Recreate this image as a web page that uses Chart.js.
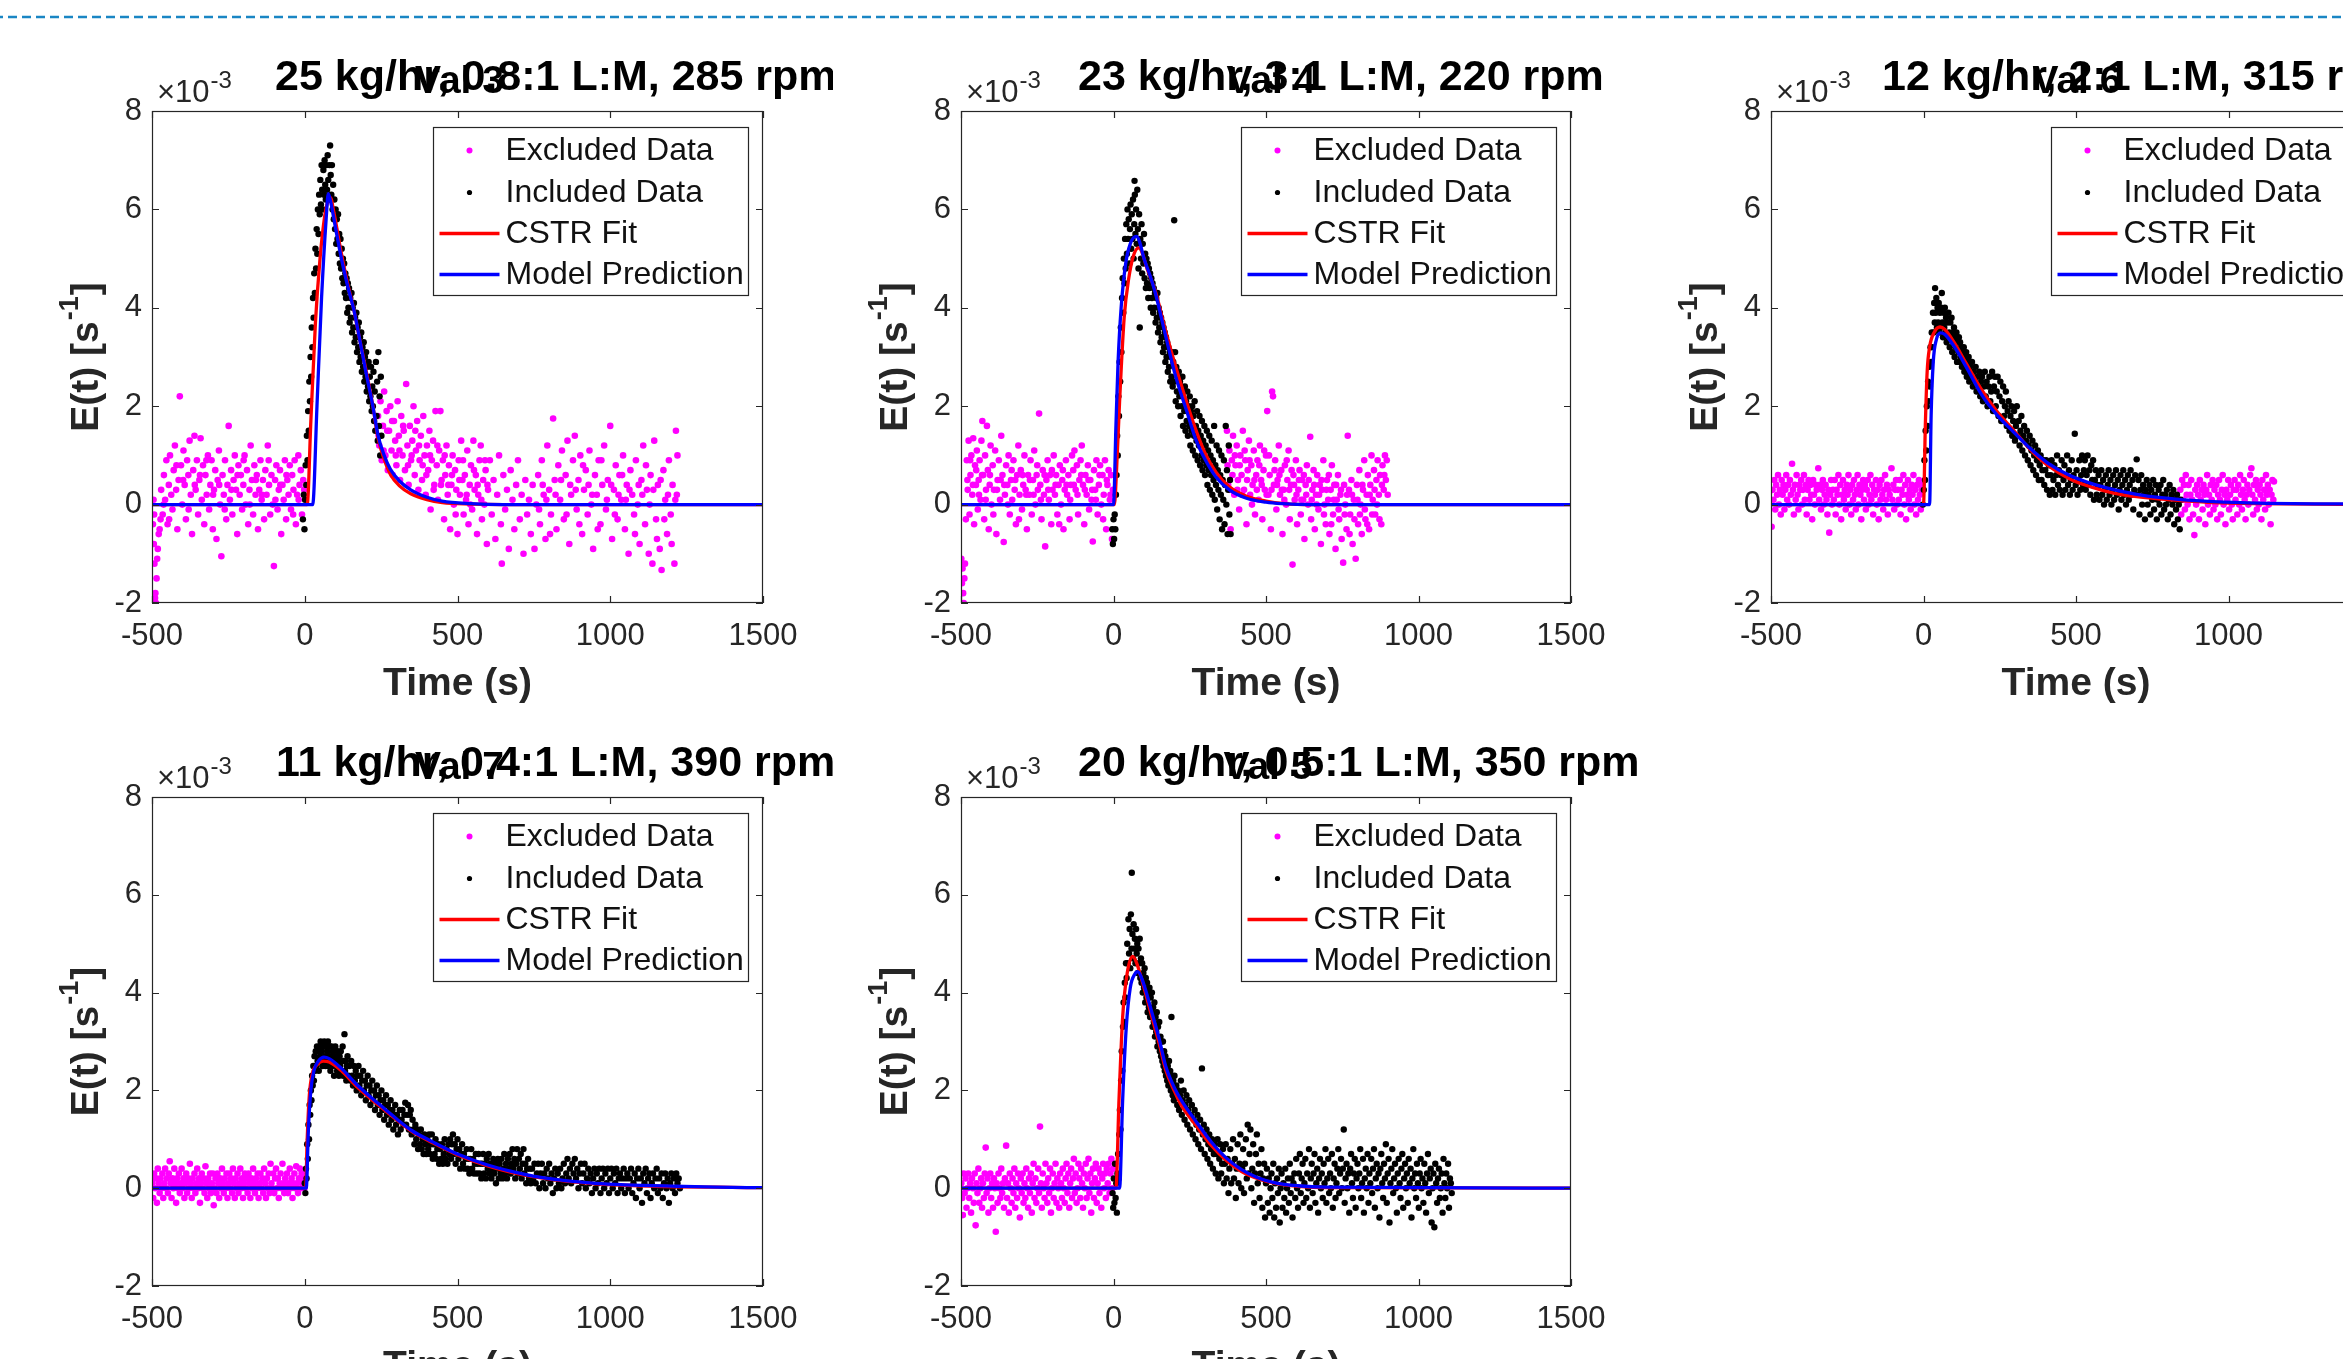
<!DOCTYPE html>
<html><head><meta charset="utf-8">
<script src="https://cdn.jsdelivr.net/npm/chart.js@4/dist/chart.umd.min.js"></script>
<style>
html,body{margin:0;padding:0;background:#fff;}
#page{position:relative;width:2343px;height:1359px;overflow:hidden;background:#fff;}
.panel{position:absolute;}
#dash{position:absolute;left:0;top:0;}
</style></head><body><div id="page"><canvas id="dash" width="2343" height="34"></canvas></div>
<script>
// ---------- axis ticks & labels ----------
const xTicks = [-500, 0, 500, 1000, 1500];
const yTicks = [-2, 0, 2, 4, 6, 8];
const legendLabels = ['Excluded Data', 'Included Data', 'CSTR Fit', 'Model Prediction'];
const panelNames = ['Val 3', 'Val 4', 'Val 6', 'Val 7', 'Val 5'];
const panelTitles = ['25 kg/hr, 0.8:1 L:M, 285 rpm', '23 kg/hr, 3:1 L:M, 220 rpm', '12 kg/hr, 2:1 L:M, 315 rpm', '11 kg/hr, 0.4:1 L:M, 390 rpm', '20 kg/hr, 0.5:1 L:M, 350 rpm'];
const xLabel = 'Time (s)';
const yLabelMain = 'E(t) [s', yLabelSup = '-1', yLabelEnd = ']';
const expBase = '\u00d710', expSup = '-3';

// ---------- Val 3 (values in units of 1e-3 s^-1) ----------
const val3Excluded = [[-497,-0.4],[-495,0.1],[-494,-0.8],[-493,-0.2],[-492,-1.2],[-490,-1.9],[-489,-1.8],[-487,-2.0],[-485,-1.5],[-483,-1.1],[-481,-0.9],[-478,-0.6],[-475,-0.5],[-472,-0.3],
[-470,0.3],[-465,-0.2],[-461,0.6],[-457,0.1],[-453,0.9],[-449,-0.4],[-445,0.4],[-441,1.0],[-437,0.2],[-433,-0.1],[-429,0.7],[-425,1.2],[-421,0.3],[-417,-0.5],[-413,0.5],[-409,2.2],[-405,0.8],[-401,0.0],[-397,1.1],[-393,0.4],[-389,-0.3],[-385,0.9],[-381,0.6],[-377,1.3],[-373,0.2],[-369,-0.6],[-365,0.7],[-361,1.4],[-357,0.3],[-353,0.9],[-349,-0.2],[-345,0.5],[-341,1.35],[-337,0.1],[-333,0.8],[-329,-0.4],[-325,0.6],[-321,0.2],[-317,1.0],[-313,-0.1],[-309,0.4],[-305,0.9],[-301,-0.5],[-297,0.3],[-293,0.7],[-289,-0.7],[-285,0.5],[-281,1.1],[-277,0.0],[-273,-1.05],[-269,0.6],[-265,0.2],[-261,0.9],[-257,-0.3],[-253,0.4],[-249,1.6],[-245,0.1],[-241,0.7],[-237,-0.2],[-233,0.5],[-229,1.0],[-225,0.3],[-221,-0.6],[-217,0.8],[-213,0.2],[-209,0.6],[-205,-0.1],[-201,0.4],[-197,1.0],[-193,0.0],[-189,0.7],[-185,-0.4],[-181,0.3],[-177,1.2],[-173,0.5],[-169,-0.2],[-165,0.8],[-161,0.2],[-157,0.6],[-153,-0.5],[-149,0.3],[-145,0.9],[-141,0.1],[-137,0.5],[-133,-0.3],[-129,0.7],[-125,0.2],[-121,1.2],[-117,0.4],[-113,-0.2],[-109,0.6],[-105,0.0],[-101,-1.25],[-97,0.5],[-93,0.8],[-89,-0.1],[-85,0.3],[-81,0.7],[-77,-0.6],[-73,0.4],[-69,0.1],[-65,0.9],[-61,-0.3],[-57,0.5],[-53,0.2],[-49,0.8],[-45,-0.1],[-41,0.6],[-37,0.3],[-33,0.9],[-29,-0.4],[-25,0.2],[-21,1.0],[-17,0.4],[-13,0.7],[-9,-0.2],[-5,0.5],[-2,0.3],
[-462,0.0],[-444,-0.3],[-420,0.8],[-398,0.5],[-380,-0.1],[-360,0.4],[-343,0.6],[-322,0.9],[-300,0.2],[-280,0.4],[-262,-0.1],[-240,0.3],[-220,0.6],[-200,0.9],[-180,0.0],[-160,0.5],[-140,0.2],[-118,0.9],[-96,0.1],[-80,0.4],[-60,0.6],[-38,-0.2],[-20,0.1],
[240,1.8],[244,1.2],[248,2.1],[252,0.9],[256,1.6],[260,2.3],[264,1.0],[268,1.9],[272,0.7],[276,1.5],[280,2.0],[284,1.1],[288,0.6],[292,1.7],[296,1.3],[300,0.8],[304,2.1],[308,1.4],[312,0.5],[316,1.8],[320,1.0],[324,1.5],[328,0.7],[332,2.45],[336,1.2],[340,0.4],[344,1.6],[348,0.9],[352,1.3],[356,2.0],[360,0.6],[364,1.1],[368,1.7],[372,0.3],[376,0.9],[380,1.4],[384,0.5],[388,1.8],[392,1.0],[396,0.2],[400,1.2],[404,0.7],[408,1.5],[412,-0.1],[416,0.9],[420,1.3],[424,0.4],[428,1.9],[432,0.8],[436,0.1],[440,1.1],[444,1.9],[448,0.5],[452,0.9],[456,-0.3],[460,0.6],[464,1.2],[468,0.2],[472,0.8],[476,-0.5],[480,0.4],[484,1.0],[488,0.0],[492,0.7],[496,0.3],[500,-0.6],[504,0.9],[508,0.2],[512,1.3],[516,0.5],[520,-0.2],[524,0.6],[528,0.1],[532,1.1],[536,-0.4],[540,0.4],[544,0.8],[548,-0.1],[552,1.3],[556,0.3],[560,0.6],[564,-0.6],[568,0.2],[572,0.9],[576,1.2],[580,-0.3],[584,0.5],[588,0.0],[592,0.7],[596,-0.8],[600,0.3],
[242,1.4],[258,1.1],[270,1.5],[286,1.7],[298,1.0],[310,1.1],[322,1.6],[338,0.8],[350,1.0],[362,1.5],[374,1.2],[386,0.8],[398,0.6],[410,1.0],[422,0.3],[434,1.2],[446,0.4],[458,1.0],[470,0.4],[482,0.6],[494,-0.2],[506,0.5],[518,0.9],[530,0.2],[542,0.0],[554,0.7],[566,0.4],[578,0.1],[590,0.9],[598,0.4],
[606,0.9],[612,-0.2],[618,0.5],[624,-0.7],[630,0.2],[636,1.0],[642,-0.4],[645,-1.2],[650,0.6],[656,-0.1],[662,0.3],[668,-0.9],[674,0.7],[680,0.1],[686,-0.5],[692,0.4],[698,0.9],[704,-0.3],[710,0.2],[716,-1.0],[722,0.5],[728,-0.2],[734,0.1],[740,-0.6],[746,0.4],[752,-0.9],[758,0.0],
[764,0.6],[770,-0.4],[776,0.9],[782,0.2],[788,-0.7],[794,1.2],[800,0.3],[806,-0.2],[813,1.75],[818,0.5],[824,-0.5],[830,0.8],[836,0.1],[842,1.1],[848,-0.3],[854,0.6],[860,1.3],[866,-0.8],[872,0.2],[878,0.9],[884,1.4],[890,-0.1],[896,0.5],[902,1.0],[908,-0.6],[914,0.3],[920,0.7],[926,-0.2],[932,1.1],[938,0.0],[944,-0.9],[950,0.6],[956,0.2],[962,0.9],[968,-0.4],[974,0.4],[980,1.2],[986,-0.1],[992,0.5],[1000,1.6],[1006,-0.7],[1012,0.3],[1018,0.8],[1024,-0.3],[1030,0.6],[1036,0.1],[1042,1.0],[1048,-0.5],[1054,0.4],[1060,-1.0],[1066,0.7],[1072,0.2],[1078,-0.2],[1084,0.9],[1090,0.0],[1096,-0.8],[1102,0.5],[1108,1.2],[1114,-0.4],[1120,0.3],[1126,-1.0],[1132,0.6],[1138,-1.2],[1144,1.3],[1150,-0.3],[1156,0.4],[1162,-0.9],[1168,-1.33],[1174,0.7],[1180,0.1],[1186,-0.6],[1192,0.9],[1198,-0.2],[1204,0.4],[1210,-1.2],[1215,1.5],[1218,0.2],[1220,1.0],
[767,-0.1],[779,0.4],[791,0.1],[803,-0.6],[821,0.2],[839,0.5],[857,-0.2],[869,0.4],[887,0.3],[899,-0.4],[911,0.8],[929,0.4],[941,0.2],[959,-0.5],[971,0.9],[989,0.1],[1003,0.4],[1015,-0.2],[1027,0.2],[1039,0.6],[1051,0.1],[1063,0.3],[1081,-0.6],[1093,0.4],[1105,0.2],[1117,0.8],[1129,0.0],[1141,0.3],[1153,-0.7],[1165,0.5],[1177,-0.3],[1189,0.2],[1201,-0.8],[1213,0.1]];
const val3Included = [[-6,-0.3],[-3,0.2],[-1,-0.5],[1,0.1],[3,0.8],[5,0.4],[7,1.4],[9,0.9],[11,1.9],[13,1.5],[15,2.5],[17,2.1],[19,3.0],[21,2.6],[23,3.6],[25,3.2],[27,4.2],[29,3.8],[31,4.7],[33,4.3],[35,5.2],[37,4.8],[39,5.6],[41,5.1],[43,6.0],[45,5.5],[47,6.3],[49,5.9],[51,6.6],[53,6.1],[55,6.9],[57,6.4],[59,6.0],[61,6.8],[63,6.3],[65,7.0],[67,6.5],[69,6.2],[71,6.9],[73,6.4],[75,7.1],[77,6.6],[79,6.2],[81,6.9],[83,7.3],[85,6.7],[87,6.3],[89,6.9],[91,6.0],[93,6.5],[95,5.8],[97,6.2],[99,5.6],[101,6.0],[103,5.3],[105,5.8],[107,5.4],[109,5.9],[111,5.1],[113,5.5],[115,4.9],[117,5.4],[119,4.8],[121,5.2],[123,4.6],[125,5.0],[127,4.5],[129,4.9],[131,4.3],[133,4.7],[135,4.2],[137,4.6],[139,3.9],[141,4.5],[143,4.0],[145,4.4],[147,3.7],[149,4.2],[151,3.8],[153,4.3],[155,3.5],[157,4.0],[159,3.6],[161,4.1],[163,3.3],[165,3.8],[167,3.4],[169,3.9],[171,3.1],[173,3.6],[175,3.2],[177,3.7],[179,2.9],[181,3.4],[183,3.0],[185,3.5],[187,2.7],[189,3.2],[191,2.8],[193,3.3],[195,2.5],[197,3.0],[199,2.6],[201,3.1],[203,2.3],[205,2.8],[207,2.4],[209,2.9],[211,2.1],[213,2.6],[215,2.2],[217,2.8],[219,1.9],[221,2.4],[223,2.0],[225,2.7],[227,1.7],[229,2.3],[231,1.5],[233,2.9],[235,1.8],[237,2.5],[239,1.3],[241,3.1],[243,1.6],[245,2.2],[247,1.0],[249,2.6],[251,1.4]];
const val3CstrFit = [[-500,0],[8,0],[20,1.7],[35,3.7],[50,5.0],[65,5.85],[75,6.15],[84,6.24],[95,5.95],[120,5.1],[140,4.5],[161,3.95],[180,3.35],[200,2.75],[223,2.0],[240,1.35],[260,0.92],[280,0.62],[310,0.38],[347,0.22],[400,0.1],[450,0.04],[543,0.01],[650,0],[1500,0]];
const val3ModelPrediction = [[-500,0],[26,0],[40,2.0],[55,4.2],[70,5.8],[77,6.32],[85,6.15],[100,5.65],[120,5.0],[140,4.45],[161,3.95],[180,3.35],[200,2.7],[223,2.0],[240,1.4],[260,1.0],[280,0.72],[310,0.48],[347,0.3],[400,0.15],[450,0.07],[543,0.02],[650,0],[1500,0]];

// ---------- Val 4 ----------
const val4Excluded = [[-499,-1.1],[-497,-1.6],[-495,-1.3],[-493,-1.8],[-491,-2.0],[-489,-1.5],[-487,-1.2],[-484,-0.3],[-481,0.9],[-478,0.3],[-475,1.3],[-472,-0.2],[-469,0.6],[-466,1.0],[-463,0.2],[-460,1.35],[-457,-0.4],[-454,0.8],[-451,0.4],[-448,1.1],[-445,-0.1],[-442,0.5],[-439,0.9],[-436,0.1],[-433,1.3],[-430,1.7],[-427,0.6],[-424,-0.3],[-421,1.0],[-418,0.3],[-415,1.6],[-412,0.7],[-409,-0.5],[-406,0.4],[-403,1.2],[-400,0.0],[-396,0.8],[-392,0.3],[-388,1.1],[-384,-0.6],[-380,0.5],[-376,0.9],[-372,0.1],[-368,1.4],[-364,0.6],[-360,-0.76],[-356,0.2],[-352,0.8],[-348,0.4],[-344,1.0],[-340,-0.2],[-336,0.5],[-332,0.1],[-328,0.9],[-324,0.3],[-320,-0.4],[-316,0.6],[-312,1.2],[-308,0.2],[-304,0.7],[-300,-0.1],[-296,0.4],[-292,1.0],[-288,0.3],[-284,-0.5],[-280,0.6],[-276,0.2],[-272,0.9],[-268,-0.2],[-264,0.5],[-260,1.1],[-256,0.0],[-252,0.6],[-248,0.3],[-244,1.85],[-240,0.4],[-236,-0.3],[-232,0.7],[-228,0.2],[-224,-0.85],[-220,0.5],[-216,0.9],[-212,0.1],[-208,0.6],[-204,-0.4],[-200,0.3],[-196,1.0],[-192,0.2],[-188,0.6],[-184,-0.2],[-180,0.4],[-176,0.8],[-172,0.0],[-168,0.5],[-164,-0.5],[-160,0.3],[-156,0.9],[-152,0.2],[-148,0.6],[-144,-0.3],[-140,0.4],[-136,1.0],[-132,0.7],[-128,1.1],[-124,0.3],[-120,0.8],[-116,-0.2],[-112,0.5],[-108,0.9],[-104,1.2],[-100,0.4],[-96,-0.4],[-92,0.6],[-88,0.2],[-84,0.8],[-80,-0.1],[-76,0.5],[-72,0.1],[-68,-0.75],[-64,0.7],[-60,0.3],[-56,0.9],[-52,-0.2],[-48,0.4],[-44,0.8],[-40,0.0],[-36,0.6],[-32,0.2],[-28,0.9],[-24,-0.5],[-20,0.4],[-16,0.7],[-12,0.1],[-8,0.6],[-5,-0.7],[-2,0.3],
[-479,0.5],[-470,0.9],[-461,0.4],[-450,0.7],[-441,0.2],[-431,0.6],[-419,0.1],[-405,0.6],[-394,-0.2],[-382,0.3],[-370,0.5],[-358,0.4],[-346,0.0],[-334,0.7],[-322,0.5],[-310,-0.3],[-298,0.6],[-286,0.2],[-274,0.5],[-262,0.2],[-250,0.8],[-238,0.1],[-226,0.6],[-214,0.3],[-202,0.7],[-190,0.4],[-178,-0.4],[-166,0.7],[-154,0.4],[-142,0.1],[-130,0.4],[-118,0.2],[-106,0.6],[-94,0.3],[-82,0.5],[-70,0.3],[-58,0.1],[-46,0.6],[-34,-0.3],[-22,0.5],[-10,0.2],
[372,1.5],[376,0.4],[380,1.1],[384,-0.5],[388,0.9],[392,1.4],[396,0.2],[400,0.8],[404,1.2],[408,0.5],[412,-0.1],[416,1.0],[420,0.6],[424,1.5],[428,0.3],[432,0.9],[436,-0.4],[440,0.7],[444,1.3],[448,0.2],[452,0.8],[456,0.4],[460,1.1],[464,-0.2],[468,0.6],[472,0.9],[476,0.1],[480,1.2],[484,0.5],[488,-0.3],[492,0.7],[496,0.3],[500,1.0],[504,1.9],[508,0.2],[512,0.6],[516,-0.5],[520,2.3],[523,2.2],[526,0.4],[530,0.9],[534,-0.1],[538,0.5],[542,1.2],[546,0.2],[550,0.7],[554,-0.6],[558,0.3],[562,0.8],[566,0.0],[570,0.5],[574,1.1],[578,-0.3],[582,0.4],[587,-1.22],[590,0.6],[594,0.1],[598,0.9],[602,-0.4],[606,0.3],[610,0.7],[614,-0.2],[618,0.5],[622,0.1],[626,-0.7],[630,0.4],[634,0.8],[638,0.0],[645,1.38],[648,-0.3],[652,0.3],[656,0.7],[660,-0.5],[664,0.2],[668,0.6],[672,-0.1],[676,0.4],[680,-0.8],[684,0.3],[688,0.9],[692,0.0],[696,-0.4],[700,0.5],[704,0.1],[708,-0.6],[712,0.3],[716,0.8],[720,-0.2],[724,0.4],[728,-0.9],[732,0.1],[736,0.6],[740,-0.3],[744,0.2],[748,-0.7],[753,-1.18],[756,0.4],[760,0.0],[764,-0.5],[768,1.4],[772,0.3],[776,-0.2],[780,0.5],[784,-0.8],[788,0.1],[794,-1.1],[798,0.4],[802,-0.4],[806,0.7],[810,0.0],[814,-0.6],[818,0.3],[822,0.9],[826,-0.3],[830,0.2],[834,0.6],[838,-0.5],[842,0.4],[846,1.0],[850,0.1],[854,0.7],[858,-0.2],[862,0.5],[866,0.9],[870,0.2],[874,0.6],[878,-0.4],[882,0.8],[886,0.3],[890,1.0],[893,0.5],[896,0.9],[899,0.2],
[374,0.8],[382,0.3],[390,0.6],[398,1.0],[406,0.3],[414,0.8],[422,0.2],[430,1.1],[438,0.5],[446,0.9],[454,0.0],[462,0.5],[470,0.3],[478,0.8],[486,0.4],[494,1.1],[502,0.2],[510,1.0],[518,0.3],[528,0.7],[536,0.4],[544,0.6],[552,0.3],[560,0.1],[568,0.9],[576,0.3],[584,0.7],[592,0.4],[600,0.2],[608,0.5],[616,0.1],[624,0.6],[632,0.2],[640,0.5],[650,0.1],[658,0.4],[666,0.0],[674,0.2],[682,0.5],[690,-0.2],[698,0.3],[706,0.6],[714,-0.4],[722,0.1],[730,0.4],[738,-0.1],[746,0.3],[758,-0.2],[766,0.2],[774,-0.6],[782,0.2],[790,-0.3],[800,0.1],[808,-0.2],[816,0.4],[824,-0.1],[832,-0.4],[840,0.2],[848,-0.2],[856,0.3],[864,0.0],[872,-0.3],[880,0.4],[888,0.6]];
const val4Included = [[-4,-0.5],[-2,-0.8],[0,-0.3],[2,-0.7],[4,-0.2],[6,-0.5],[8,0.2],[10,0.6],[12,1.4],[14,1.0],[16,2.2],[18,1.8],[20,2.9],[22,2.5],[24,3.6],[26,3.1],[28,4.2],[30,4.6],[32,3.9],[34,5.0],[36,4.5],[38,5.4],[40,4.8],[42,5.7],[44,5.1],[46,6.0],[48,5.4],[50,5.8],[52,4.9],[54,5.6],[56,6.1],[58,5.2],[60,5.9],[62,5.4],[64,6.2],[66,5.0],[68,5.7],[69,6.58],[70,6.3],[72,5.5],[74,6.0],[76,5.3],[78,6.4],[80,5.6],[82,4.8],[84,5.9],[86,3.6],[88,5.4],[90,5.0],[92,5.7],[94,4.7],[96,5.3],[98,4.9],[100,5.5],[102,4.6],[104,5.1],[106,4.4],[108,5.0],[110,4.5],[112,4.9],[114,4.2],[116,4.8],[118,4.4],[120,4.7],[122,4.0],[124,4.6],[126,4.2],[128,4.5],[130,3.9],[132,4.4],[134,4.0],[136,4.3],[138,3.7],[140,4.2],[142,3.8],[144,4.3],[146,3.5],[148,4.0],[150,3.6],[152,3.9],[154,3.3],[156,3.8],[158,3.4],[160,3.7],[162,3.1],[164,3.6],[166,3.2],[168,3.5],[170,2.9],[172,3.4],[174,3.0],[176,3.3],[178,2.7],[180,3.2],[182,2.8],[184,3.1],[186,2.5],[188,3.0],[190,2.6],[192,3.1],[194,2.4],[196,2.9],[199,5.78],[200,2.5],[202,3.1],[204,2.1],[206,2.8],[208,2.3],[210,2.6],[212,2.0],[214,2.7],[216,2.2],[218,2.5],[220,1.8],[222,2.4],[224,2.0],[226,2.6],[228,1.6],[230,2.3],[232,1.9],[234,2.4],[236,1.5],[238,2.1],[240,1.7],[242,2.3],[244,1.4],[246,2.0],[248,1.6],[250,2.2],[252,1.2],[254,1.9],[256,1.5],[258,2.0],[260,1.1],[262,1.8],[264,1.4],[266,2.1],[268,1.0],[270,1.6],[272,1.3],[274,1.9],[276,0.9],[278,1.5],[280,1.2],[282,1.8],[284,0.8],[286,1.4],[288,1.0],[290,1.7],[292,0.7],[294,1.3],[296,0.9],[298,1.6],[300,0.6],[302,1.2],[304,0.8],[306,1.5],[308,0.4],[310,1.1],[312,0.7],[314,1.4],[316,0.3],[318,1.0],[320,0.6],[322,1.3],[324,0.2],[326,0.9],[328,0.5],[330,1.6],[332,0.1],[334,0.8],[336,0.4],[338,1.2],[340,-0.1],[342,0.7],[344,0.3],[346,1.1],[348,-0.3],[350,0.6],[352,0.2],[354,1.0],[356,-0.5],[358,0.5],[360,0.1],[362,0.9],[364,-0.4],[366,0.4],[368,1.6],[370,0.0],[372,0.7],[374,-0.6],[376,0.3],[378,1.2],[380,-0.2],[382,0.5],[384,-0.6]];
const val4CstrFit = [[-500,0],[3,0],[10,0.7],[20,2.1],[35,3.8],[50,4.6],[65,5.05],[82,5.22],[92,5.15],[110,4.8],[138,4.32],[170,3.55],[204,2.8],[240,2.08],[270,1.52],[300,1.05],[336,0.66],[380,0.36],[436,0.17],[500,0.07],[560,0.02],[650,0],[1500,0]];
const val4ModelPrediction = [[-500,0],[0,0],[8,1.6],[15,2.9],[25,4.0],[40,4.9],[55,5.3],[75,5.45],[85,5.35],[100,5.0],[120,4.65],[138,4.28],[170,3.45],[204,2.6],[240,1.9],[270,1.32],[300,0.92],[336,0.56],[380,0.3],[436,0.13],[500,0.05],[552,0.02],[650,0],[1500,0]];

// ---------- Val 6 ----------
const val6Excluded = [[-498,-0.45],[-495,0.3],[-492,0.1],[-489,0.5],[-486,-0.1],[-483,0.4],[-480,0.2],[-477,0.6],[-474,0.0],[-471,0.3],[-468,-0.2],[-465,0.5],[-462,0.2],[-459,0.4],[-456,-0.1],[-453,0.3],[-450,0.6],[-447,0.1],[-444,0.4],[-441,0.0],[-438,0.5],[-435,0.2],[-431,0.83],[-428,0.3],[-425,-0.2],[-422,0.4],[-419,0.1],[-416,0.6],[-413,0.2],[-410,-0.1],[-407,0.4],[-404,0.3],[-401,0.5],[-398,0.0],[-395,0.3],[-392,0.6],[-389,0.1],[-386,0.4],[-383,-0.2],[-380,0.3],[-377,0.5],[-374,0.1],[-371,0.4],[-368,0.2],[-365,-0.3],[-362,0.5],[-359,0.2],[-356,0.0],[-353,0.4],[-350,0.3],[-345,0.74],[-342,0.1],[-339,0.4],[-336,-0.1],[-333,0.3],[-330,0.5],[-327,0.0],[-324,0.2],[-321,0.4],[-318,0.1],[-315,-0.2],[-312,0.3],[-309,-0.57],[-306,0.2],[-303,0.5],[-300,0.0],[-297,0.3],[-294,0.1],[-291,0.5],[-288,-0.2],[-285,0.3],[-282,0.2],[-279,0.6],[-276,0.0],[-273,0.4],[-270,-0.3],[-267,0.2],[-264,0.5],[-261,0.1],[-258,0.3],[-255,-0.1],[-252,0.4],[-249,0.2],[-246,0.6],[-243,0.0],[-240,0.3],[-237,-0.2],[-234,0.4],[-231,0.1],[-228,0.5],[-225,0.2],[-222,-0.1],[-219,0.3],[-216,0.6],[-213,0.0],[-210,0.4],[-207,0.2],[-204,-0.3],[-201,0.3],[-198,0.5],[-195,0.1],[-192,0.4],[-189,-0.1],[-186,0.3],[-183,0.5],[-180,0.0],[-177,0.2],[-174,0.6],[-171,0.1],[-168,0.4],[-165,-0.2],[-162,0.3],[-159,0.2],[-156,0.5],[-153,0.0],[-150,0.3],[-147,-0.3],[-144,0.4],[-141,0.1],[-138,0.5],[-135,0.2],[-132,-0.1],[-129,0.3],[-126,0.6],[-123,0.1],[-120,0.4],[-117,-0.2],[-114,0.3],[-111,0.2],[-105,0.74],[-102,0.1],[-99,0.4],[-96,-0.1],[-93,0.3],[-90,0.5],[-87,0.0],[-84,0.3],[-81,0.1],[-78,0.5],[-75,-0.2],[-72,0.3],[-69,0.2],[-66,0.6],[-63,0.0],[-60,0.4],[-57,-0.3],[-54,0.2],[-51,0.5],[-48,0.1],[-45,0.3],[-42,-0.1],[-39,0.4],[-36,0.2],[-33,0.6],[-30,0.0],[-27,0.3],[-24,-0.2],[-21,0.4],[-18,0.1],[-15,0.5],[-12,0.2],[-9,-0.1],[-6,0.3],[-3,0.4],
[842,0.3],[845,-0.2],[848,0.5],[851,0.1],[854,0.4],[857,-0.1],[860,0.6],[863,0.2],[866,0.0],[869,0.4],[872,-0.3],[875,0.2],[878,0.5],[881,0.1],[884,-0.2],[888,-0.62],[891,0.3],[894,0.0],[897,0.4],[900,0.2],[903,-0.3],[906,0.5],[909,0.1],[912,0.3],[915,-0.1],[918,0.4],[921,0.2],[924,-0.4],[927,0.3],[930,0.6],[933,0.0],[936,0.2],[939,-0.2],[942,0.4],[945,0.1],[948,0.5],[951,-0.1],[954,0.3],[957,0.0],[960,0.4],[963,-0.3],[966,0.2],[969,0.5],[972,0.1],[975,-0.2],[978,0.3],[981,0.6],[984,0.0],[987,0.2],[990,-0.4],[993,0.3],[996,0.1],[999,0.5],[1002,-0.1],[1005,0.2],[1008,0.4],[1011,0.0],[1014,-0.3],[1017,0.3],[1020,0.5],[1023,0.1],[1026,0.3],[1029,-0.2],[1032,0.4],[1035,0.0],[1038,0.6],[1041,0.2],[1044,-0.1],[1047,0.3],[1050,0.5],[1053,0.1],[1056,-0.3],[1059,0.2],[1062,0.4],[1065,0.0],[1068,0.3],[1071,0.6],[1075,0.74],[1078,0.2],[1081,-0.2],[1084,0.4],[1087,0.1],[1090,0.5],[1093,-0.1],[1096,0.3],[1099,0.0],[1102,0.4],[1105,0.2],[1108,-0.3],[1111,0.5],[1114,0.1],[1117,0.3],[1120,-0.1],[1123,0.6],[1126,0.2],[1129,0.4],[1132,0.0],[1135,0.3],[1138,-0.4],[1141,0.2],[1144,0.5],[1147,0.1],[1149,0.47]];
const val6Included = [[-2,0.0],[1,0.3],[3,0.9],[5,0.5],[7,1.5],[9,1.1],[11,2.0],[13,1.6],[15,2.5],[17,2.1],[19,2.8],[21,2.4],[23,3.2],[25,2.9],[27,3.5],[29,3.2],[31,3.9],[33,3.5],[35,4.1],[37,3.7],[38,4.4],[40,3.9],[42,4.2],[44,3.6],[46,4.0],[48,3.7],[50,4.1],[52,3.5],[54,3.9],[56,3.6],[58,4.0],[60,4.3],[62,3.7],[64,3.4],[66,3.9],[68,3.6],[70,4.0],[72,3.5],[74,3.8],[76,3.3],[78,3.7],[80,3.4],[82,3.9],[84,3.5],[86,3.2],[88,3.7],[90,3.4],[92,3.8],[94,3.1],[96,3.5],[98,3.3],[100,3.6],[102,3.0],[104,3.4],[106,3.2],[108,3.5],[110,2.9],[112,3.3],[114,3.1],[116,3.4],[118,2.9],[120,3.3],[122,3.0],[124,3.2],[126,2.8],[128,3.1],[130,2.9],[132,3.2],[134,2.7],[136,3.0],[138,2.8],[140,3.1],[142,2.6],[144,2.9],[146,2.7],[148,3.0],[150,2.5],[153,2.8],[156,2.6],[159,2.9],[162,2.4],[165,2.7],[168,2.5],[171,2.8],[174,2.3],[177,2.6],[180,2.4],[183,2.7],[186,2.2],[189,2.5],[192,2.6],[195,2.1],[198,2.4],[201,2.7],[204,2.2],[207,2.5],[210,2.0],[213,2.4],[216,2.6],[219,2.1],[222,2.3],[225,2.7],[228,1.9],[231,2.4],[234,2.6],[237,2.0],[240,2.3],[243,2.6],[246,1.8],[249,2.2],[252,2.5],[255,1.7],[258,2.1],[261,2.4],[264,1.8],[267,2.0],[270,2.3],[273,1.6],[276,1.9],[279,2.1],[282,1.5],[285,1.8],[288,2.0],[291,1.4],[294,1.7],[297,1.9],[300,1.3],[303,1.6],[306,2.0],[309,1.4],[312,1.7],[315,1.2],[318,1.5],[321,1.8],[324,1.1],[327,1.4],[330,1.6],[333,1.0],[336,1.3],[339,1.5],[342,0.9],[345,1.2],[348,1.4],[351,0.8],[354,1.1],[357,1.3],[360,0.7],[363,1.0],[366,1.2],[369,0.6],[372,0.9],[375,1.1],[378,0.5],[381,0.8],[384,1.0],[387,0.5],[390,0.7],[393,0.9],[396,0.4],[399,0.7],[402,0.9],[405,0.3],[408,0.6],[411,0.8],[414,0.2],[417,0.6],[420,0.9],[423,0.3],[426,0.5],[429,0.8],[432,0.2],[435,0.6],[438,1.0],[441,0.4],[444,0.7],[447,0.3],[450,0.6],[453,0.9],[456,0.2],[459,0.5],[462,0.8],[465,0.3],[468,0.6],[471,1.0],[474,0.4],[477,0.7],[480,0.2],[483,0.5],[486,0.9],[489,0.3],[492,0.6],[496,1.44],[499,0.4],[502,0.7],[505,0.2],[508,0.5],[511,0.9],[514,0.3],[517,0.6],[520,1.0],[523,0.4],[526,0.7],[529,0.9],[532,0.3],[535,0.6],[538,1.0],[541,0.4],[544,0.7],[547,0.2],[550,0.8],[553,0.5],[556,0.9],[559,0.1],[562,0.5],[565,0.7],[568,0.2],[571,0.4],[574,0.6],[577,0.1],[580,0.4],[583,0.7],[586,0.2],[589,0.5],[592,0.0],[595,0.3],[598,0.6],[601,0.1],[604,0.4],[607,0.7],[610,0.2],[613,0.5],[616,0.0],[619,0.3],[622,0.6],[625,0.1],[628,0.4],[631,0.7],[634,0.2],[637,0.5],[640,-0.1],[643,0.3],[646,0.6],[649,0.1],[652,0.4],[655,0.7],[658,0.2],[661,0.5],[664,0.0],[667,0.3],[670,0.6],[673,0.1],[676,0.4],[679,0.7],[682,0.2],[685,0.5],[688,-0.1],[691,0.3],[694,0.6],[699,0.92],[702,0.2],[705,0.5],[708,-0.2],[711,0.3],[714,0.6],[717,0.0],[720,0.4],[723,0.2],[726,-0.3],[729,0.3],[732,0.5],[735,0.0],[738,0.2],[741,0.4],[744,-0.2],[747,0.3],[750,0.1],[753,0.5],[756,-0.1],[759,0.2],[762,0.4],[765,-0.3],[768,0.1],[771,0.3],[774,0.0],[777,0.4],[780,-0.2],[783,0.2],[786,0.5],[789,-0.1],[792,0.2],[795,0.0],[798,0.3],[801,-0.3],[804,0.1],[807,0.4],[810,-0.2],[813,0.2],[816,0.0],[819,0.3],[822,-0.4],[825,0.1],[828,-0.1],[831,0.2],[834,-0.3],[837,0.0],[840,-0.5],[843,0.1]];
const val6CstrFit = [[-500,0],[0,0],[6,1.6],[12,2.7],[20,3.2],[35,3.5],[54,3.61],[70,3.56],[100,3.3],[140,2.87],[191,2.33],[240,1.9],[293,1.53],[350,1.12],[409,0.79],[480,0.52],[554,0.35],[620,0.24],[699,0.16],[780,0.11],[844,0.08],[950,0.04],[1100,0.02],[1500,0]];
const val6ModelPrediction = [[-500,0],[20,0],[25,1.8],[32,2.9],[42,3.35],[56,3.49],[70,3.46],[100,3.22],[140,2.8],[191,2.23],[240,1.83],[293,1.49],[350,1.14],[409,0.84],[480,0.59],[554,0.42],[620,0.31],[699,0.21],[780,0.14],[844,0.1],[950,0.06],[1100,0.03],[1500,0.01]];

// ---------- Val 7 ----------
const val7Excluded = [[-499,0.1],[-496,-0.2],[-493,0.3],[-490,0.0],[-487,0.2],[-484,-0.3],[-481,0.4],[-478,0.1],[-475,-0.1],[-472,0.2],[-469,0.0],[-466,0.3],[-463,-0.2],[-460,0.1],[-457,0.4],[-454,0.0],[-451,0.2],[-448,-0.1],[-445,0.3],[-442,0.55],[-439,0.1],[-436,-0.2],[-433,0.2],[-430,0.0],[-427,0.4],[-424,0.1],[-421,-0.3],[-418,0.2],[-415,0.0],[-412,0.3],[-409,-0.1],[-406,0.1],[-403,0.4],[-400,0.0],[-397,0.2],[-394,-0.2],[-391,0.1],[-388,0.3],[-385,-0.1],[-382,0.2],[-379,0.0],[-376,0.5],[-373,0.1],[-370,-0.2],[-367,0.2],[-364,0.0],[-361,0.3],[-358,-0.1],[-355,0.1],[-352,0.4],[-349,0.0],[-346,0.2],[-343,-0.3],[-340,0.1],[-337,0.3],[-334,0.0],[-331,0.2],[-328,-0.1],[-325,0.45],[-322,0.1],[-319,-0.2],[-316,0.2],[-313,0.0],[-310,0.3],[-307,-0.1],[-304,0.1],[-301,0.3],[-298,-0.35],[-295,0.0],[-292,0.2],[-289,-0.1],[-286,0.3],[-283,0.1],[-280,-0.2],[-277,0.2],[-274,0.0],[-271,0.4],[-268,0.1],[-265,-0.1],[-262,0.2],[-259,0.0],[-256,0.3],[-253,-0.2],[-250,0.1],[-247,0.3],[-244,0.0],[-241,0.2],[-238,-0.1],[-235,0.4],[-232,0.1],[-229,-0.2],[-226,0.2],[-223,0.0],[-220,0.3],[-217,-0.1],[-214,0.1],[-211,0.4],[-208,0.0],[-205,0.2],[-202,-0.2],[-199,0.1],[-196,0.3],[-193,0.0],[-190,0.2],[-187,-0.1],[-184,0.3],[-181,0.1],[-178,-0.2],[-175,0.2],[-172,0.0],[-169,0.4],[-166,0.1],[-163,-0.1],[-160,0.2],[-157,0.0],[-154,0.3],[-151,-0.2],[-148,0.1],[-145,0.3],[-142,0.0],[-139,0.2],[-136,-0.1],[-133,0.4],[-130,0.1],[-127,-0.2],[-124,0.2],[-121,0.0],[-118,0.3],[-115,-0.1],[-112,0.5],[-109,0.1],[-106,0.0],[-103,0.3],[-100,-0.1],[-97,0.2],[-94,0.4],[-91,0.0],[-88,0.2],[-85,-0.2],[-82,0.1],[-79,0.3],[-76,0.0],[-73,0.5],[-70,0.1],[-67,-0.1],[-64,0.2],[-61,0.0],[-58,0.3],[-55,-0.1],[-52,0.1],[-49,0.4],[-46,0.0],[-43,0.2],[-40,-0.2],[-37,0.1],[-34,0.3],[-31,0.0],[-28,0.45],[-25,0.1],[-22,-0.1],[-19,0.2],[-16,0.4],[-13,0.0],[-10,0.3],[-7,0.1],[-4,0.2],[-1,0.0]];
const val7Included = [[0,0.1],[2,-0.1],[4,0.4],[6,0.2],[8,0.9],[10,0.6],[12,1.3],[14,1.0],[16,1.7],[18,1.5],[20,2.0],[22,1.8],[24,2.3],[26,2.1],[28,2.5],[30,2.2],[32,2.7],[34,2.4],[36,2.8],[38,2.5],[40,2.9],[42,2.6],[44,2.8],[46,2.4],[48,2.9],[50,2.7],[52,3.0],[54,2.6],[56,2.8],[58,2.5],[60,2.9],[62,2.6],[64,3.0],[66,2.7],[68,2.5],[70,2.9],[72,2.6],[74,2.8],[76,3.0],[78,2.5],[80,2.7],[82,2.9],[84,2.4],[86,2.7],[88,2.9],[90,2.5],[92,2.8],[94,2.6],[96,2.3],[98,2.7],[100,2.9],[102,2.5],[104,2.7],[106,2.4],[108,2.8],[110,2.6],[112,2.3],[114,2.7],[116,2.5],[118,2.8],[120,2.4],[122,2.6],[124,2.9],[126,2.3],[128,2.6],[130,3.15],[132,2.4],[134,2.6],[136,2.2],[138,2.5],[140,2.7],[143,2.3],[146,2.5],[149,2.2],[152,2.6],[155,2.3],[158,2.1],[161,2.5],[164,2.2],[167,2.4],[170,2.0],[173,2.3],[176,2.5],[179,2.1],[182,2.3],[185,1.9],[188,2.2],[191,2.4],[194,2.0],[197,2.2],[200,1.8],[203,2.1],[206,2.3],[209,1.9],[212,2.1],[215,1.7],[218,2.0],[221,2.2],[224,1.8],[227,2.0],[230,1.6],[233,1.9],[236,2.1],[239,1.7],[242,1.9],[245,1.5],[248,1.8],[251,2.0],[254,1.6],[257,1.8],[260,1.4],[263,1.7],[266,1.9],[269,1.5],[272,1.7],[275,1.3],[278,1.6],[281,1.8],[284,1.4],[287,1.6],[290,1.2],[293,1.5],[296,1.7],[299,1.3],[302,1.5],[305,1.1],[308,1.4],[311,1.6],[314,1.2],[317,1.4],[320,1.6],[323,1.3],[326,1.5],[329,1.75],[332,1.3],[335,1.5],[338,1.7],[341,1.2],[344,1.5],[347,1.6],[350,1.1],[353,1.4],[356,1.2],[359,0.9],[362,1.3],[365,1.0],[368,1.2],[371,0.8],[374,1.1],[377,0.9],[380,1.2],[383,0.8],[386,1.0],[389,0.7],[392,1.1],[395,0.9],[398,0.7],[401,1.0],[404,0.8],[407,1.1],[410,0.7],[413,0.9],[416,1.1],[419,0.6],[422,0.9],[425,0.7],[428,1.0],[431,0.6],[434,0.8],[437,0.9],[440,0.5],[443,0.8],[446,0.6],[449,0.9],[452,0.5],[455,0.7],[458,1.0],[461,0.6],[464,0.8],[467,0.5],[470,0.9],[473,0.7],[476,1.0],[479,0.6],[482,0.9],[485,1.1],[488,0.7],[491,0.9],[494,0.5],[497,0.8],[500,1.0],[503,0.6],[506,0.8],[509,0.4],[512,0.7],[515,0.9],[518,0.5],[521,0.7],[524,0.4],[527,0.6],[530,0.8],[533,0.4],[536,0.6],[539,0.3],[542,0.6],[545,0.8],[548,0.4],[551,0.6],[554,0.3],[557,0.5],[560,0.7],[563,0.3],[566,0.5],[569,0.7],[572,0.3],[575,0.5],[578,0.2],[581,0.5],[584,0.7],[587,0.3],[590,0.5],[593,0.2],[596,0.6],[599,0.4],[602,0.7],[605,0.3],[608,0.5],[611,0.2],[614,0.4],[617,0.6],[620,0.3],[623,0.5],[626,0.1],[629,0.4],[632,0.6],[635,0.2],[638,0.5],[641,0.3],[644,0.6],[647,0.2],[650,0.4],[653,0.7],[656,0.3],[659,0.5],[662,0.2],[665,0.6],[668,0.4],[671,0.7],[674,0.3],[677,0.5],[680,0.8],[683,0.4],[686,0.6],[689,0.2],[692,0.5],[695,0.8],[698,0.3],[701,0.6],[704,0.4],[707,0.7],[710,0.2],[713,0.5],[716,0.8],[719,0.3],[722,0.5],[725,0.1],[728,0.4],[731,0.6],[734,0.2],[737,0.4],[740,0.1],[744,0.4],[748,0.2],[752,0.5],[756,0.1],[760,0.3],[764,0.5],[768,0.0],[772,0.3],[776,0.5],[780,0.1],[784,0.3],[788,0.0],[792,0.4],[796,0.2],[800,0.5],[804,0.1],[808,0.3],[812,-0.1],[816,0.2],[820,0.4],[824,0.0],[828,0.3],[832,0.1],[836,0.4],[840,0.0],[844,0.2],[848,0.5],[852,0.1],[856,0.3],[860,0.6],[864,0.2],[868,0.4],[872,0.1],[876,0.5],[880,0.3],[884,0.6],[888,0.2],[892,0.4],[896,0.0],[900,0.3],[904,0.5],[908,0.1],[912,0.3],[916,0.5],[920,0.0],[924,0.2],[928,0.4],[932,0.1],[936,0.3],[940,-0.1],[944,0.2],[948,0.4],[952,0.0],[956,0.3],[960,0.1],[964,0.4],[968,-0.1],[972,0.2],[976,0.4],[980,0.0],[984,0.3],[988,0.1],[992,0.4],[996,-0.1],[1000,0.2],[1004,0.4],[1008,0.0],[1012,0.3],[1016,0.1],[1020,0.4],[1024,-0.1],[1028,0.2],[1032,0.3],[1036,0.0],[1040,0.2],[1044,0.4],[1048,-0.1],[1052,0.2],[1056,0.3],[1060,0.0],[1064,0.2],[1068,0.4],[1072,-0.1],[1076,0.1],[1080,0.3],[1084,-0.2],[1088,0.2],[1092,0.4],[1096,0.0],[1100,0.2],[1104,-0.3],[1108,0.3],[1112,0.1],[1116,0.4],[1120,-0.1],[1124,0.2],[1128,0.3],[1132,-0.2],[1136,0.1],[1140,0.3],[1144,0.0],[1148,0.2],[1152,0.4],[1156,-0.1],[1160,0.2],[1164,0.0],[1168,0.3],[1172,-0.2],[1176,0.1],[1180,0.3],[1184,0.0],[1188,0.2],[1192,-0.3],[1196,0.1],[1200,0.3],[1204,0.0],[1208,0.2],[1212,-0.1],[1216,0.3],[1220,0.1],[1224,0.2],[1228,0.0]];
const val7CstrFit = [[-500,0],[3,0],[8,1.0],[15,1.9],[25,2.35],[40,2.52],[60,2.6],[80,2.58],[120,2.4],[170,2.08],[241,1.7],[300,1.4],[350,1.16],[418,0.93],[500,0.68],[596,0.46],[680,0.32],[773,0.21],[860,0.14],[951,0.09],[1050,0.06],[1218,0.03],[1350,0.02],[1500,0.01]];
const val7ModelPrediction = [[-500,0],[5,0],[12,1.2],[20,2.0],[30,2.4],[45,2.6],[63,2.68],[80,2.65],[120,2.45],[170,2.12],[241,1.73],[300,1.42],[350,1.18],[418,0.95],[500,0.7],[596,0.48],[680,0.34],[773,0.22],[860,0.15],[951,0.1],[1050,0.07],[1218,0.04],[1350,0.02],[1500,0.01]];

// ---------- Val 5 ----------
const val5Excluded = [[-499,0.1],[-496,-0.2],[-494,-0.55],[-491,0.3],[-488,-0.1],[-485,0.2],[-482,-0.4],[-479,0.0],[-476,0.3],[-473,-0.2],[-470,0.1],[-467,-0.5],[-464,0.2],[-461,0.0],[-458,-0.3],[-455,0.3],[-452,-0.76],[-449,0.1],[-446,-0.1],[-443,0.4],[-440,-0.3],[-437,0.0],[-434,0.2],[-431,-0.4],[-428,0.1],[-425,-0.2],[-422,0.3],[-419,0.83],[-416,-0.1],[-413,0.2],[-410,-0.5],[-407,0.0],[-404,0.3],[-401,-0.2],[-398,0.1],[-395,-0.4],[-392,0.2],[-389,0.0],[-386,-0.89],[-383,0.1],[-380,-0.3],[-377,0.3],[-374,0.0],[-371,-0.2],[-368,0.4],[-365,-0.1],[-362,0.1],[-359,-0.4],[-356,0.2],[-352,0.87],[-349,-0.2],[-346,0.1],[-343,-0.5],[-340,0.3],[-337,0.0],[-334,-0.3],[-331,0.2],[-328,-0.1],[-325,0.4],[-322,-0.4],[-319,0.1],[-316,-0.2],[-313,0.3],[-310,0.0],[-307,-0.6],[-304,0.2],[-301,-0.1],[-298,0.3],[-295,-0.3],[-292,0.1],[-289,-0.2],[-286,0.4],[-283,0.0],[-280,-0.4],[-277,0.2],[-274,-0.1],[-271,0.3],[-268,-0.5],[-265,0.1],[-262,0.5],[-259,-0.2],[-256,0.2],[-253,-0.3],[-250,0.0],[-247,0.4],[-244,-0.1],[-241,1.26],[-238,0.1],[-235,-0.4],[-232,0.3],[-229,0.0],[-226,-0.2],[-223,0.5],[-220,0.1],[-217,-0.3],[-214,0.2],[-211,-0.1],[-208,0.4],[-205,-0.5],[-202,0.0],[-199,0.3],[-196,-0.2],[-193,0.1],[-190,0.5],[-187,-0.3],[-184,0.2],[-181,0.0],[-178,-0.4],[-175,0.3],[-172,0.1],[-169,-0.2],[-166,0.4],[-163,0.0],[-160,-0.3],[-157,0.2],[-154,0.5],[-151,-0.1],[-148,0.3],[-145,-0.4],[-142,0.1],[-139,0.4],[-136,-0.2],[-133,0.2],[-130,0.6],[-127,-0.1],[-124,0.3],[-121,-0.3],[-118,0.0],[-115,0.5],[-112,0.2],[-109,-0.2],[-106,0.4],[-103,0.1],[-100,-0.4],[-97,0.3],[-94,0.0],[-91,0.5],[-88,-0.2],[-85,0.2],[-82,0.6],[-79,-0.1],[-76,0.3],[-73,-0.5],[-70,0.1],[-67,0.4],[-64,-0.2],[-61,0.2],[-58,0.5],[-55,-0.3],[-52,0.1],[-49,0.4],[-46,-0.1],[-43,0.3],[-40,-0.4],[-37,0.2],[-34,0.5],[-31,0.0],[-28,0.3],[-25,-0.2],[-22,0.4],[-19,0.1],[-16,0.5],[-13,-0.1],[-10,0.3],[-7,0.6],[-4,0.0],[-1,0.4]];
const val5Included = [[-3,-0.1],[-1,-0.4],[1,0.2],[3,-0.3],[5,0.5],[7,-0.2],[9,0.1],[11,-0.5],[13,0.3],[15,0.7],[17,0.2],[19,1.1],[21,1.6],[23,1.2],[25,2.2],[27,2.8],[29,2.4],[31,3.3],[33,3.8],[35,3.4],[37,4.2],[39,3.9],[41,4.6],[43,4.3],[45,5.0],[47,4.6],[49,5.5],[51,4.8],[53,5.3],[55,4.5],[57,5.6],[59,4.9],[60,6.45],[62,5.2],[64,4.7],[66,5.4],[68,4.9],[70,5.1],[72,4.6],[74,5.3],[76,4.8],[78,5.0],[80,4.4],[82,4.9],[84,4.6],[86,5.1],[88,4.3],[90,4.7],[92,4.2],[94,4.6],[96,4.0],[98,4.4],[100,4.1],[102,4.5],[104,3.8],[106,4.3],[108,3.9],[110,4.2],[112,3.6],[114,4.0],[116,3.7],[118,4.1],[120,3.5],[122,3.9],[124,3.6],[126,4.0],[128,3.3],[130,3.7],[132,3.4],[134,3.8],[136,3.1],[138,3.5],[140,3.2],[142,3.6],[144,2.9],[146,3.3],[148,3.0],[150,3.4],[152,2.8],[154,3.1],[156,2.7],[158,3.0],[160,2.6],[162,3.0],[164,2.5],[166,2.8],[168,2.4],[170,2.7],[172,2.3],[174,2.6],[176,2.2],[178,2.5],[180,2.1],[182,2.6],[184,2.2],[186,2.4],[188,2.0],[190,3.5],[192,2.3],[194,1.9],[196,2.2],[198,1.8],[200,2.3],[203,1.9],[206,2.1],[209,1.7],[212,2.0],[215,1.6],[218,1.9],[221,2.2],[224,1.5],[227,1.8],[230,2.0],[233,1.4],[236,1.7],[239,1.9],[242,1.3],[245,1.6],[248,1.8],[251,1.2],[254,1.5],[257,1.7],[260,1.1],[263,1.4],[266,1.6],[269,1.0],[272,1.3],[275,1.5],[278,0.9],[281,1.2],[284,1.4],[287,0.8],[290,2.45],[293,1.1],[296,1.3],[299,0.7],[302,1.0],[305,1.2],[308,0.6],[311,0.9],[314,1.1],[317,0.5],[320,0.8],[323,1.0],[326,0.4],[329,0.7],[332,0.9],[335,0.3],[338,0.7],[341,1.0],[344,0.2],[347,0.6],[350,0.9],[353,0.3],[356,0.5],[359,0.8],[362,0.1],[365,0.5],[368,0.9],[371,0.2],[374,0.6],[377,-0.1],[380,0.4],[383,0.8],[386,0.1],[389,0.5],[392,1.0],[395,0.2],[398,0.6],[401,-0.2],[404,0.4],[407,0.9],[410,0.1],[413,0.5],[416,1.1],[419,0.0],[422,0.4],[425,0.8],[428,-0.1],[431,0.5],[434,1.0],[437,0.2],[440,1.3],[443,0.3],[446,0.7],[449,1.2],[452,0.0],[455,0.4],[458,0.9],[461,-0.3],[464,0.3],[467,0.7],[470,1.1],[473,0.1],[476,0.5],[479,-0.2],[482,0.3],[485,0.8],[488,-0.4],[491,0.2],[494,0.5],[497,-0.6],[500,0.1],[503,0.4],[506,-0.3],[509,0.2],[512,-0.5],[515,0.0],[518,0.3],[521,-0.2],[524,0.5],[527,-0.6],[530,0.1],[533,-0.4],[536,0.2],[539,-0.1],[542,0.4],[545,-0.7],[548,0.0],[551,0.3],[554,-0.4],[557,0.1],[560,-0.2],[563,0.4],[566,-0.5],[569,0.0],[572,0.2],[575,-0.3],[578,0.5],[581,-0.1],[584,0.2],[587,-0.6],[590,0.1],[593,0.3],[596,-0.2],[599,0.6],[602,0.0],[605,-0.4],[608,0.3],[611,0.7],[614,-0.1],[617,0.2],[620,0.5],[623,-0.3],[626,0.1],[629,0.6],[632,-0.2],[635,0.3],[638,0.0],[641,0.8],[644,-0.4],[647,0.2],[650,0.5],[653,-0.1],[656,0.3],[659,0.7],[662,-0.3],[665,0.1],[668,0.4],[671,-0.5],[674,0.2],[677,0.6],[680,0.0],[683,0.3],[686,-0.2],[689,0.5],[692,0.1],[695,0.8],[698,-0.3],[701,0.2],[704,0.6],[707,-0.1],[710,0.3],[713,0.0],[716,0.7],[719,-0.4],[722,0.2],[725,0.5],[728,-0.2],[731,0.1],[734,0.4],[737,0.8],[740,-0.1],[743,0.3],[746,0.6],[749,0.0],[752,0.4],[755,1.2],[758,-0.3],[761,0.2],[764,0.5],[767,0.0],[770,0.3],[773,-0.5],[776,0.4],[779,0.7],[782,0.1],[785,-0.2],[788,0.3],[791,0.6],[794,-0.4],[797,0.2],[800,0.5],[803,0.0],[806,0.3],[809,0.8],[812,-0.2],[815,0.1],[818,0.6],[821,-0.5],[824,0.2],[827,0.4],[830,0.0],[833,0.7],[836,-0.3],[839,0.3],[842,0.1],[845,0.6],[848,-0.1],[851,0.4],[854,0.8],[857,-0.4],[860,0.2],[863,0.5],[866,0.0],[869,0.3],[872,-0.6],[875,0.4],[878,0.7],[881,0.1],[884,-0.2],[887,0.5],[890,0.2],[893,0.9],[896,-0.3],[899,0.3],[902,0.6],[905,-0.7],[908,0.1],[911,0.4],[914,0.8],[917,-0.1],[920,0.2],[923,0.5],[926,0.0],[929,-0.5],[932,0.3],[935,0.6],[938,0.1],[941,-0.2],[944,0.4],[947,0.7],[950,-0.4],[953,0.2],[956,0.5],[959,0.0],[962,0.3],[965,-0.3],[968,0.6],[971,0.1],[974,0.4],[977,-0.6],[980,0.2],[983,0.8],[986,0.0],[989,0.3],[992,-0.2],[995,0.5],[998,0.1],[1001,-0.4],[1004,0.3],[1007,0.6],[1010,0.0],[1013,0.2],[1016,-0.3],[1019,0.5],[1022,0.1],[1025,-0.5],[1028,0.3],[1031,0.7],[1034,-0.1],[1037,0.2],[1040,0.4],[1043,-0.7],[1046,0.0],[1049,0.3],[1052,-0.8],[1055,0.5],[1058,0.1],[1061,-0.3],[1064,0.2],[1067,0.4],[1070,-0.2],[1073,0.0],[1076,0.3],[1079,-0.5],[1082,0.6],[1085,0.1],[1088,-0.2],[1091,0.3],[1094,0.0],[1097,0.5],[1100,-0.4],[1103,0.2],[1106,0.1],[1109,-0.1]];
const val5CstrFit = [[-500,0],[8,0],[18,1.8],[30,3.5],[45,4.4],[63,4.74],[75,4.62],[100,4.1],[130,3.4],[150,2.95],[171,2.42],[200,1.98],[220,1.72],[271,1.28],[320,0.88],[371,0.56],[420,0.34],[471,0.2],[530,0.1],[604,0.04],[700,0.01],[1500,0]];
const val5ModelPrediction = [[-500,0],[20,0],[30,1.8],[42,3.3],[55,4.1],[70,4.38],[80,4.43],[95,4.25],[130,3.5],[150,3.05],[171,2.5],[200,2.05],[220,1.82],[271,1.36],[320,0.95],[371,0.61],[420,0.38],[471,0.22],[530,0.11],[604,0.05],[700,0.02],[1500,0]];

// ---------- layout (pixels) ----------
const panels = [
  {left:152, top:111, w:611, h:492, titleDx:123, nameDx:2, excluded:val3Excluded, included:val3Included, cstr:val3CstrFit, model:val3ModelPrediction},
  {left:961, top:111, w:610, h:492, titleDx:117, nameDx:5, excluded:val4Excluded, included:val4Included, cstr:val4CstrFit, model:val4ModelPrediction},
  {left:1771, top:111, w:610, h:492, titleDx:111, nameDx:1, excluded:val6Excluded, included:val6Included, cstr:val6CstrFit, model:val6ModelPrediction},
  {left:152, top:797, w:611, h:489, titleDx:124, nameDx:2, excluded:val7Excluded, included:val7Included, cstr:val7CstrFit, model:val7ModelPrediction},
  {left:961, top:797, w:610, h:489, titleDx:117, nameDx:2, excluded:val5Excluded, included:val5Included, cstr:val5CstrFit, model:val5ModelPrediction}
];
panels.forEach((p, i) => { p.name = panelNames[i]; p.title = panelTitles[i]; });

const FONT = '"Liberation Sans", Arial, Helvetica, sans-serif';
const AX = '#262626';
const toXY = arr => arr.map(d => ({x: d[0], y: d[1]}));

// top dashed separator
(function(){
  const c = document.getElementById('dash').getContext('2d');
  c.strokeStyle = '#1a86c4'; c.lineWidth = 2.5; c.setLineDash([9, 5]); c.lineDashOffset = 6;
  c.beginPath(); c.moveTo(0, 17); c.lineTo(2343, 17); c.stroke();
})();

function decor(p) {
  return {
    id: 'decor',
    afterDraw(chart) {
      const ctx = chart.ctx, a = chart.chartArea, xs = chart.scales.x, ys = chart.scales.y;
      ctx.save();
      // axes box
      ctx.strokeStyle = AX; ctx.lineWidth = 1.2;
      ctx.strokeRect(a.left + 0.5, a.top + 0.5, a.right - a.left - 1, a.bottom - a.top - 1);
      ctx.beginPath();
      xTicks.forEach(v => {
        const x = Math.round(xs.getPixelForValue(v)) + 0.5;
        ctx.moveTo(x, a.bottom); ctx.lineTo(x, a.bottom - 7);
        ctx.moveTo(x, a.top); ctx.lineTo(x, a.top + 7);
      });
      yTicks.forEach(v => {
        const y = Math.round(ys.getPixelForValue(v)) + 0.5;
        ctx.moveTo(a.left, y); ctx.lineTo(a.left + 7, y);
        ctx.moveTo(a.right, y); ctx.lineTo(a.right - 7, y);
      });
      ctx.stroke();

      // legend
      const bw = 315, bh = 168;
      const bx = Math.round(a.right - 15 - bw) + 0.5, by = Math.round(a.top + 16) + 0.5;
      ctx.fillStyle = '#fff'; ctx.fillRect(bx, by, bw, bh);
      ctx.strokeStyle = AX; ctx.lineWidth = 1.2; ctx.strokeRect(bx, by, bw, bh);
      const rows = [23, 65, 106, 147];
      ctx.font = '32px ' + FONT; ctx.textBaseline = 'middle'; ctx.textAlign = 'left';
      legendLabels.forEach((lab, i) => {
        const ry = by + rows[i];
        if (i === 0 || i === 1) {
          ctx.fillStyle = i === 0 ? '#ff00ff' : '#000';
          ctx.beginPath(); ctx.arc(bx + 36, ry, i === 0 ? 3 : 2.6, 0, Math.PI * 2); ctx.fill();
        } else {
          ctx.strokeStyle = i === 2 ? '#ff0000' : '#0000ff'; ctx.lineWidth = 3.5;
          ctx.beginPath(); ctx.moveTo(bx + 6, ry); ctx.lineTo(bx + 66, ry); ctx.stroke();
        }
        ctx.fillStyle = '#111';
        ctx.fillText(lab, bx + 72, ry + 1);
      });

      // exponent label
      ctx.fillStyle = AX; ctx.textBaseline = 'alphabetic'; ctx.textAlign = 'left';
      ctx.font = '31px ' + FONT;
      ctx.fillText(expBase, a.left + 5, a.top - 9);
      const ew = ctx.measureText(expBase).width;
      ctx.font = '24px ' + FONT;
      ctx.fillText(expSup, a.left + 5 + ew + 1, a.top - 23);

      // titles
      ctx.fillStyle = '#000';
      ctx.font = 'bold 43px ' + FONT; ctx.textAlign = 'left';
      ctx.fillText(p.title, a.left + p.titleDx, a.top - 21);
      ctx.font = 'bold 39px ' + FONT; ctx.textAlign = 'center';
      ctx.fillText(p.name, (a.left + a.right) / 2 + p.nameDx, a.top - 18);

      // x label
      ctx.fillStyle = AX;
      ctx.font = 'bold 39px ' + FONT; ctx.textAlign = 'center';
      ctx.fillText(xLabel, (a.left + a.right) / 2, a.bottom + 92);

      // y label with superscript
      ctx.save();
      ctx.translate(a.left - 54, (a.top + a.bottom) / 2);
      ctx.rotate(-Math.PI / 2);
      ctx.textAlign = 'left';
      ctx.font = 'bold 39px ' + FONT; const w1 = ctx.measureText(yLabelMain).width, w3 = ctx.measureText(yLabelEnd).width;
      ctx.font = 'bold 27px ' + FONT; const w2 = ctx.measureText(yLabelSup).width;
      let x0 = -(w1 + w2 + w3 + 2) / 2;
      ctx.font = 'bold 39px ' + FONT; ctx.fillText(yLabelMain, x0, 0);
      ctx.font = 'bold 27px ' + FONT; ctx.fillText(yLabelSup, x0 + w1 + 1, -20);
      ctx.font = 'bold 39px ' + FONT; ctx.fillText(yLabelEnd, x0 + w1 + w2 + 2, 0);
      ctx.restore();
      ctx.restore();
    }
  };
}

function makePanel(p) {
  const PADL = 152, PADT = 111, PADR = 70, PADB = 130, YW = 70, XH = 60;
  const W = p.w + PADL + PADR, H = p.h + PADT + PADB;
  const div = document.createElement('div');
  div.className = 'panel';
  div.style.left = (p.left - PADL) + 'px'; div.style.top = (p.top - PADT) + 'px';
  div.style.width = W + 'px'; div.style.height = H + 'px';
  const cv = document.createElement('canvas');
  cv.width = W; cv.height = H; cv.style.width = W + 'px'; cv.style.height = H + 'px';
  div.appendChild(cv);
  document.getElementById('page').appendChild(div);
  const tickFont = {family: FONT, size: 31};
  const plain = v => String(v);
  new Chart(cv, {
    type: 'scatter',
    data: {datasets: [
      {label: legendLabels[3], data: toXY(p.model), showLine: true, borderColor: '#0000ff', backgroundColor: '#0000ff', borderWidth: 3.3, pointRadius: 0, cubicInterpolationMode: 'monotone', order: 1},
      {label: legendLabels[2], data: toXY(p.cstr), showLine: true, borderColor: '#ff0000', backgroundColor: '#ff0000', borderWidth: 3.3, pointRadius: 0, cubicInterpolationMode: 'monotone', order: 2},
      {label: legendLabels[1], data: toXY(p.included), showLine: false, backgroundColor: '#000000', borderColor: '#000000', pointRadius: 3.2, pointBorderWidth: 0, borderWidth: 0, order: 3},
      {label: legendLabels[0], data: toXY(p.excluded), showLine: false, backgroundColor: '#ff00ff', borderColor: '#ff00ff', pointRadius: 3.3, pointBorderWidth: 0, borderWidth: 0, order: 4}
    ]},
    options: {
      responsive: false, animation: false, devicePixelRatio: 1, events: [],
      layout: {padding: {left: PADL - YW, top: PADT, right: PADR, bottom: PADB - XH}},
      plugins: {legend: {display: false}, tooltip: {enabled: false}, title: {display: false}},
      scales: {
        x: {type: 'linear', position: 'bottom', min: xTicks[0], max: xTicks[xTicks.length - 1],
            afterFit(s) { s.height = XH; },
            afterBuildTicks(s) { s.ticks = xTicks.map(v => ({value: v})); },
            grid: {display: false, drawTicks: false}, border: {display: false},
            ticks: {font: tickFont, color: AX, padding: 15, maxRotation: 0, autoSkip: false, callback: plain}},
        y: {type: 'linear', position: 'left', min: yTicks[0], max: yTicks[yTicks.length - 1],
            afterFit(s) { s.width = YW; },
            afterBuildTicks(s) { s.ticks = yTicks.map(v => ({value: v})); },
            grid: {display: false, drawTicks: false}, border: {display: false},
            ticks: {font: tickFont, color: AX, padding: 10, autoSkip: false, callback: plain}}
      }
    },
    plugins: [decor(p)]
  });
}
panels.forEach(makePanel);
</script>
</body></html>
